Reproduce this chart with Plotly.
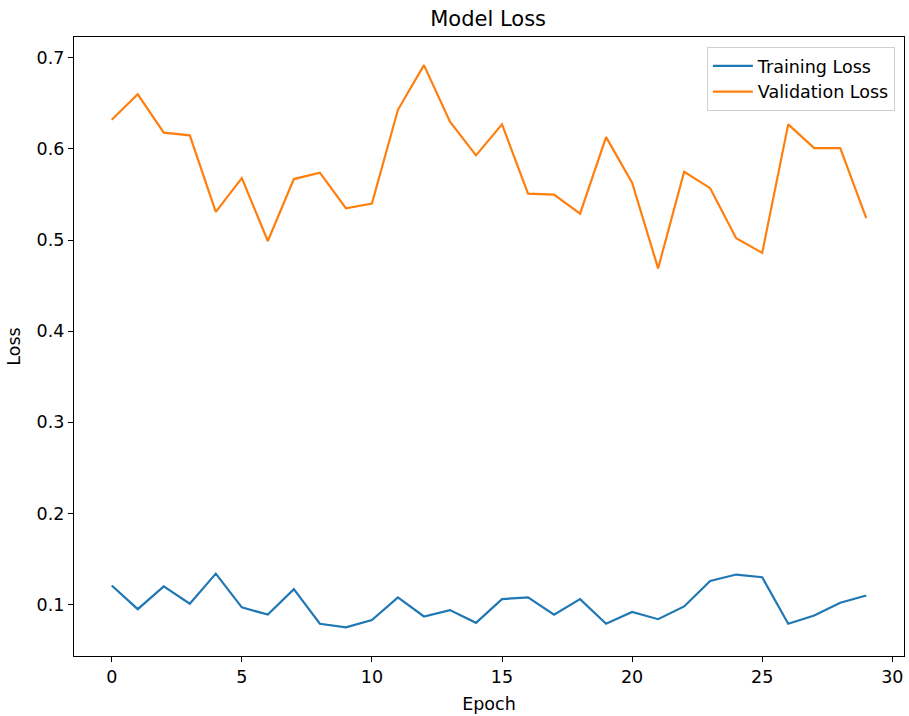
import plotly.graph_objects as go

epochs = list(range(30))
training_loss = [0.121, 0.095, 0.120, 0.101, 0.134, 0.097, 0.089, 0.117, 0.079, 0.075,
                 0.083, 0.108, 0.087, 0.094, 0.080, 0.106, 0.108, 0.089, 0.106, 0.079,
                 0.092, 0.084, 0.098, 0.126, 0.133, 0.130, 0.079, 0.088, 0.102, 0.110]
validation_loss = [0.632, 0.660, 0.618, 0.615, 0.531, 0.568, 0.499, 0.567, 0.574, 0.535,
                   0.540, 0.643, 0.692, 0.630, 0.593, 0.627, 0.551, 0.550, 0.529, 0.613,
                   0.563, 0.469, 0.575, 0.557, 0.502, 0.486, 0.627, 0.601, 0.601, 0.524]
x_ticks = [0, 5, 10, 15, 20, 25, 30]
y_ticks = [0.1, 0.2, 0.3, 0.4, 0.5, 0.6, 0.7]

font = "DejaVu Sans, sans-serif"
fs = 17.5
fig = go.Figure()
fig.add_trace(go.Scatter(x=epochs, y=training_loss, mode="lines", name="Training Loss",
                         line=dict(color="#1f77b4", width=2.2)))
fig.add_trace(go.Scatter(x=epochs, y=validation_loss, mode="lines", name="Validation Loss",
                         line=dict(color="#ff7f0e", width=2.2)))

axis_common = dict(showgrid=False, zeroline=False, showline=True, linecolor="black",
                   linewidth=1.3, mirror=True, ticks="outside", ticklen=5, tickwidth=1.2,
                   tickcolor="black", tickfont=dict(family=font, size=fs, color="black"))

fig.update_layout(
    width=909, height=716,
    paper_bgcolor="white", plot_bgcolor="white",
    margin=dict(l=74, r=5, t=37, b=60),
    title=dict(text="Model Loss", x=0.537, xanchor="center", y=0.974, yanchor="middle",
               font=dict(family=font, size=21, color="black")),
    xaxis=dict(range=[-1.45, 30.45], tickvals=x_ticks,
               title=dict(text="Epoch", font=dict(family=font, size=fs, color="black"), standoff=11),
               **axis_common),
    yaxis=dict(range=[0.0436, 0.7229], tickvals=y_ticks, tickformat=".1f",
               title=dict(text="Loss", font=dict(family=font, size=fs, color="black"), standoff=11),
               **axis_common),
    legend=dict(x=0.989, y=0.984, xanchor="right", yanchor="top", itemwidth=40,
                bgcolor="rgba(255,255,255,0.8)", bordercolor="#d0d0d0", borderwidth=1,
                font=dict(family=font, size=fs, color="black")),
    showlegend=True,
)

fig.write_html("out.html", config={"displayModeBar": False},
               post_script="document.body.style.margin='0px';")
